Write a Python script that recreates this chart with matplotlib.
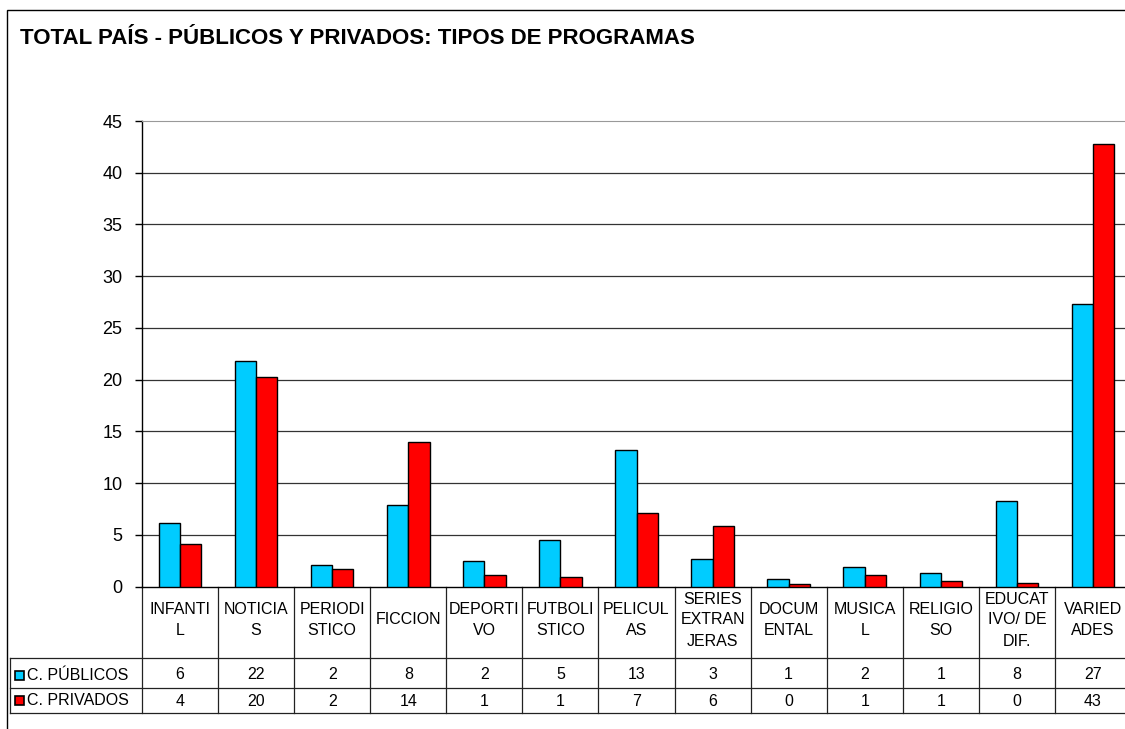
import numpy as np
import matplotlib
matplotlib.use("Agg")
import matplotlib.pyplot as plt
from matplotlib.transforms import blended_transform_factory
from matplotlib.lines import Line2D
from matplotlib.patches import Rectangle

plt.rcParams['font.family'] = ['Liberation Sans', 'DejaVu Sans']

# Data
categorias = ["INFANTI\nL", "NOTICIA\nS", "PERIODI\nSTICO", "FICCION", "DEPORTI\nVO",
              "FUTBOLI\nSTICO", "PELICUL\nAS", "SERIES\nEXTRAN\nJERAS", "DOCUM\nENTAL",
              "MUSICA\nL", "RELIGIO\nSO", "EDUCAT\nIVO/ DE\nDIF.", "VARIED\nADES"]
publicos = [6.2, 21.8, 2.1, 7.9, 2.45, 4.5, 13.2, 2.65, 0.74, 1.9, 1.32, 8.28, 27.3]
privados = [4.16, 20.3, 1.71, 13.95, 1.16, 0.94, 7.15, 5.86, 0.23, 1.16, 0.58, 0.39, 42.75]
# values as printed in the data table
tabla_publicos = [6, 22, 2, 8, 2, 5, 13, 3, 1, 2, 1, 8, 27]
tabla_privados = [4, 20, 2, 14, 1, 1, 7, 6, 0, 1, 1, 0, 43]
series_names = ["C. PÚBLICOS", "C. PRIVADOS"]
colores = ["#00CCFF", "#FF0000"]

W, H = 1125, 729
fig = plt.figure(figsize=(W / 100, H / 100), dpi=100)


def fx(px):
    return px / W


def fy(py):
    return 1 - py / H


# outer frame (runs off the right/bottom edge)
fig.add_artist(Rectangle((fx(7), fy(760)), fx(1200), fy(10) - fy(760), transform=fig.transFigure,
                         fill=False, edgecolor='black', lw=1.0))

fig.text(fx(20), fy(39), "TOTAL PAÍS - PÚBLICOS Y PRIVADOS: TIPOS DE PROGRAMAS",
         fontsize=16, fontweight='bold', va='center', ha='left')

ax = fig.add_axes([fx(142), fy(586.7), fx(1131) - fx(142), fy(121) - fy(586.7)])
x = np.arange(len(categorias))
bw = 0.28
ax.bar(x - bw / 2, publicos, bw, color=colores[0], edgecolor='black', linewidth=1.0, zorder=3)
ax.bar(x + bw / 2, privados, bw, color=colores[1], edgecolor='black', linewidth=1.0, zorder=3)

ax.set_xlim(-0.5, len(categorias) - 0.5)
ax.set_ylim(0, 45)
ax.set_yticks(np.arange(0, 46, 5))
ax.tick_params(axis='y', labelsize=13, length=5, width=1, pad=9)
ax.set_xticks([])
for v in range(5, 45, 5):
    ax.axhline(v, color='#333333', lw=0.9, zorder=1)
ax.spines['top'].set_color('#999999')
ax.spines['right'].set_visible(False)
ax.spines['left'].set_linewidth(1.0)
ax.spines['bottom'].set_linewidth(1.0)

# data table under the axis
tr = blended_transform_factory(ax.transData, fig.transFigure)
line_kw = dict(color='#222222', lw=0.9, clip_on=False)
for b in np.arange(-0.5, len(categorias), 1.0):
    ax.add_line(Line2D([b, b], [fy(586.7), fy(713)], transform=tr, **line_kw))
for yy in [658, 688, 713]:
    fig.add_artist(Line2D([fx(10), fx(1140)], [fy(yy), fy(yy)], transform=fig.transFigure, **line_kw))
fig.add_artist(Line2D([fx(10), fx(10)], [fy(658), fy(713)], transform=fig.transFigure, **line_kw))

fs = 11.5
for i, cat in enumerate(categorias):
    ax.text(i, fy(620), cat, transform=tr, ha='center', va='center', fontsize=fs,
            linespacing=1.5, clip_on=False)
    ax.text(i, fy(674.5), str(tabla_publicos[i]), transform=tr, ha='center', va='center',
            fontsize=fs, clip_on=False)
    ax.text(i, fy(701), str(tabla_privados[i]), transform=tr, ha='center', va='center',
            fontsize=fs, clip_on=False)

for name, col, yy in zip(series_names, colores, [675.5, 700.5]):
    fig.add_artist(Rectangle((fx(15), fy(yy + 4.5)), fx(9), fy(yy - 4.5) - fy(yy + 4.5),
                             transform=fig.transFigure, facecolor=col, edgecolor='black', lw=1.2))
    fig.text(fx(27), fy(yy), name, fontsize=fs, ha='left', va='center')

fig.savefig("out.png", dpi=100)
